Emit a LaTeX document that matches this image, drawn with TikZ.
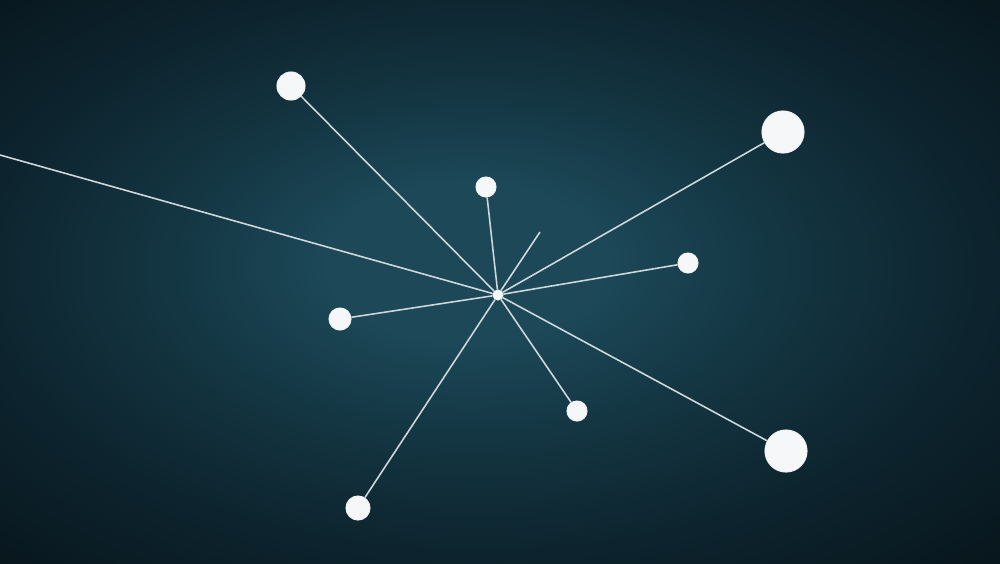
\documentclass[tikz,border=0pt]{standalone}
\usetikzlibrary{shadings}
\definecolor{bgin}{RGB}{28,72,88}
\definecolor{bgmid}{RGB}{20,54,67}
\definecolor{bgdark}{RGB}{13,36,46}
\definecolor{bgout}{RGB}{8,22,29}
\definecolor{linkgray}{RGB}{205,215,220}
\definecolor{dotwhite}{RGB}{246,247,248}
\pgfdeclareradialshading{bgglow}{\pgfpoint{-2bp}{2bp}}{color(0bp)=(bgin); color(7bp)=(bgin); color(15bp)=(bgmid); color(25bp)=(bgdark); color(36bp)=(bgout); color(50bp)=(bgout)}
\begin{document}
\begin{tikzpicture}[x=0.01cm, y=-0.01cm]
    \tikzstyle{dot} = [circle, inner sep=0pt, fill=dotwhite, draw=white!70!linkgray, line width=0.3pt]
    \tikzstyle{link} = [draw=linkgray, line width=0.45pt]

    % Background
    \useasboundingbox (0,0) rectangle (1000,563);
    \shade [shading=bgglow] (0,0) rectangle (1000,563);

    % Hub
    \node [dot, minimum size=0.1cm] (hub) at (498,295) {};

    % Outer nodes
    \node [dot, minimum size=0.28cm] (topleft) at (291,86) {};
    \node [dot, minimum size=0.2cm] (top) at (486,187) {};
    \node [dot, minimum size=0.42cm] (topright) at (783,132) {};
    \node [dot, minimum size=0.2cm] (right) at (688,263) {};
    \node [dot, minimum size=0.22cm] (left) at (340,319) {};
    \node [dot, minimum size=0.2cm] (bottom) at (577,411) {};
    \node [dot, minimum size=0.42cm] (bottomright) at (786,451) {};
    \node [dot, minimum size=0.24cm] (bottomleft) at (358,508) {};

    % Free ends
    \coordinate (edge) at (0,155);
    \coordinate (stub) at (540,232);

    % Connections
    \draw [link] (hub) -- (edge);
    \draw [link] (hub) -- (stub);
    \foreach \n in {topleft, top, topright, right, left, bottom, bottomright, bottomleft}
        \draw [link] (hub) -- (\n);
\end{tikzpicture}
\end{document}
